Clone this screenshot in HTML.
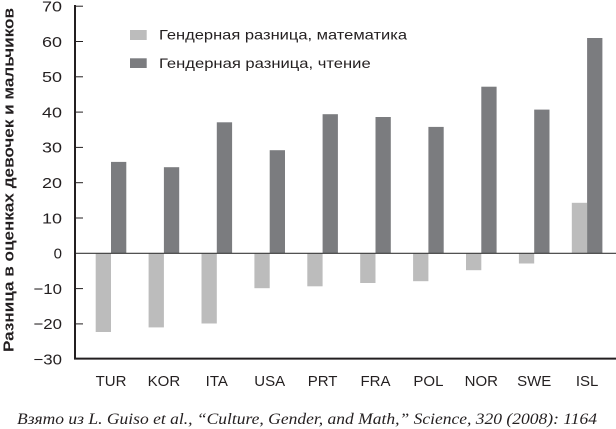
<!DOCTYPE html>
<html>
<head>
<meta charset="utf-8">
<style>
html,body{margin:0;padding:0;background:#fff;}
svg{display:block;}
text{font-family:"Liberation Sans","DejaVu Sans",sans-serif;fill:#231f20;}
.cap{font-family:"Liberation Serif","DejaVu Serif",serif;font-style:italic;}
</style>
</head>
<body>
<svg width="616" height="429" viewBox="0 0 616 429" xmlns="http://www.w3.org/2000/svg">
<rect width="616" height="429" fill="#fff"/>

<!-- Y axis title -->
<text transform="translate(13.5,180) rotate(-90)" text-anchor="middle" font-size="15" font-weight="bold" textLength="344" lengthAdjust="spacingAndGlyphs">Разница в оценках девочек и мальчиков</text>

<!-- tick labels -->
<g font-size="15" text-anchor="end">
<text x="62" y="11.5" textLength="20" lengthAdjust="spacingAndGlyphs">70</text>
<text x="62" y="46.8" textLength="20" lengthAdjust="spacingAndGlyphs">60</text>
<text x="62" y="82.1" textLength="20" lengthAdjust="spacingAndGlyphs">50</text>
<text x="62" y="117.4" textLength="20" lengthAdjust="spacingAndGlyphs">40</text>
<text x="62" y="152.7" textLength="20" lengthAdjust="spacingAndGlyphs">30</text>
<text x="62" y="188.0" textLength="20" lengthAdjust="spacingAndGlyphs">20</text>
<text x="62" y="223.3" textLength="20" lengthAdjust="spacingAndGlyphs">10</text>
<text x="62" y="258.6">0</text>
<text x="62" y="293.9" textLength="28.5" lengthAdjust="spacingAndGlyphs">−10</text>
<text x="62" y="329.2" textLength="28.5" lengthAdjust="spacingAndGlyphs">−20</text>
<text x="62" y="364.5" textLength="28.5" lengthAdjust="spacingAndGlyphs">−30</text>
</g>

<!-- ticks -->
<g stroke="#231f20" stroke-width="1">
<line x1="75" y1="6.2" x2="83" y2="6.2"/>
<line x1="75" y1="41.5" x2="83" y2="41.5"/>
<line x1="75" y1="76.8" x2="83" y2="76.8"/>
<line x1="75" y1="112.1" x2="83" y2="112.1"/>
<line x1="75" y1="147.4" x2="83" y2="147.4"/>
<line x1="75" y1="182.7" x2="83" y2="182.7"/>
<line x1="75" y1="218.0" x2="83" y2="218.0"/>
<line x1="75" y1="288.6" x2="83" y2="288.6"/>
<line x1="75" y1="323.9" x2="83" y2="323.9"/>
</g>

<!-- bars: math (light) -->
<g fill="#bcbcbc">
<rect x="95.7" y="253.3" width="15.3" height="78.7"/>
<rect x="148.6" y="253.3" width="15.3" height="74.1"/>
<rect x="201.5" y="253.3" width="15.3" height="70.2"/>
<rect x="254.4" y="253.3" width="15.3" height="34.9"/>
<rect x="307.3" y="253.3" width="15.3" height="33.0"/>
<rect x="360.2" y="253.3" width="15.3" height="29.7"/>
<rect x="413.1" y="253.3" width="15.3" height="27.9"/>
<rect x="466.0" y="253.3" width="15.3" height="16.9"/>
<rect x="518.9" y="253.3" width="15.3" height="10.2"/>
<rect x="571.8" y="202.8" width="15.3" height="50.5"/>
</g>
<!-- bars: reading (dark) -->
<g fill="#7b7c7f">
<rect x="111.0" y="161.9" width="15.3" height="91.4"/>
<rect x="163.9" y="167.2" width="15.3" height="86.1"/>
<rect x="216.8" y="122.3" width="15.3" height="131.0"/>
<rect x="269.7" y="150.2" width="15.3" height="103.1"/>
<rect x="322.6" y="114.2" width="15.3" height="139.1"/>
<rect x="375.5" y="117.0" width="15.3" height="136.3"/>
<rect x="428.4" y="126.9" width="15.3" height="126.4"/>
<rect x="481.3" y="86.7" width="15.3" height="166.6"/>
<rect x="534.2" y="109.6" width="15.3" height="143.7"/>
<rect x="587.1" y="38.0" width="15.3" height="215.3"/>
</g>

<!-- zero line -->
<line x1="75" y1="253.3" x2="616" y2="253.3" stroke="#3a3a3a" stroke-width="1.2"/>

<!-- axes -->
<line x1="75" y1="5" x2="75" y2="359.5" stroke="#231f20" stroke-width="2"/>
<line x1="74" y1="358.6" x2="616" y2="358.6" stroke="#231f20" stroke-width="2"/>

<!-- legend -->
<rect x="130" y="30" width="16.7" height="10" fill="#bcbcbc"/>
<rect x="130" y="58.3" width="16.7" height="9.7" fill="#7b7c7f"/>
<text x="159" y="39.5" font-size="14" textLength="248" lengthAdjust="spacingAndGlyphs">Гендерная разница, математика</text>
<text x="159" y="67.8" font-size="14" textLength="211.7" lengthAdjust="spacingAndGlyphs">Гендерная разница, чтение</text>

<!-- x labels -->
<g font-size="15" text-anchor="middle">
<text x="111.0" y="386">TUR</text>
<text x="163.9" y="386">KOR</text>
<text x="216.8" y="386">ITA</text>
<text x="269.7" y="386">USA</text>
<text x="322.6" y="386">PRT</text>
<text x="375.5" y="386">FRA</text>
<text x="428.4" y="386">POL</text>
<text x="481.3" y="386">NOR</text>
<text x="534.2" y="386">SWE</text>
<text x="587.1" y="386">ISL</text>
</g>

<!-- caption -->
<text class="cap" x="17" y="424" font-size="16" textLength="580" lengthAdjust="spacingAndGlyphs">Взято из L. Guiso et al., “Culture, Gender, and Math,” Science, 320 (2008): 1164</text>
</svg>
</body>
</html>
